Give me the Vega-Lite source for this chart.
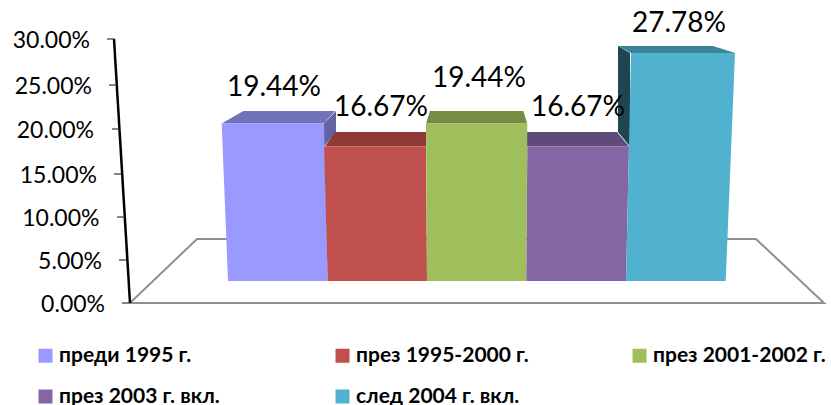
{
"$schema":"https://vega.github.io/schema/vega-lite/v6.json",
"width":831,"height":405,"padding":0,"autosize":{"type":"none"},
"background":"#ffffff","config":{"view":{"stroke":null},"font":"Lato"},
"resolve":{"scale":{"color":"independent"}},
"layer":[
{"data":{"values":[{"p":0,"x":0,"y":0},{"p":1,"x":0.67,"y":7.44},{"p":2,"x":6.26,"y":7.44},{"p":3,"x":6.94,"y":0},{"p":4,"x":0,"y":0}]},
 "mark":{"type":"line","stroke":"#8f8f8f","strokeWidth":2},
 "encoding":{"order":{"field":"p","type":"quantitative"},
  "x":{"field":"x","type":"quantitative","axis":null,"scale":{"domain":[-1.3,7.01],"range":[0,831],"nice":false,"zero":false}},
  "y":{"field":"y","type":"quantitative","axis":null,"scale":{"domain":[0,5,10,15,20,25,30],"range":[303,260,217,174,129,85,39],"nice":false,"zero":false}}}},
{"data":{"values":[
 {"series":"преди 1995 г.","x":1.94,"y":20.63,"y2":18.06},{"series":"преди 1995 г.","x":2.06,"y":22.05,"y2":19.67}]},
 "mark":{"type":"area","orient":"vertical"},
 "encoding":{"x":{"field":"x","type":"quantitative","axis":null},"y":{"field":"y","type":"quantitative","axis":null,"stack":null},"y2":{"field":"y2"},
  "color":{"field":"series","type":"nominal","legend":null,"scale":{"domain":["преди 1995 г."],"range":["#6363a3"]}}}},
{"data":{"values":[
 {"series":"преди 1995 г.","y":20.63,"x":0.917,"x2":1.94},{"series":"преди 1995 г.","y":22.05,"x":1.133,"x2":2.05},
 {"series":"през 1995-2000 г.","y":18.06,"x":1.95,"x2":2.96},{"series":"през 1995-2000 г.","y":19.67,"x":2.05,"x2":2.96},
 {"series":"през 2001-2002 г.","y":20.63,"x":2.96,"x2":3.973},{"series":"през 2001-2002 г.","y":22.05,"x":3.0,"x2":3.933},
 {"series":"през 2003 г. вкл.","y":18.06,"x":3.973,"x2":4.99},{"series":"през 2003 г. вкл.","y":19.67,"x":3.93,"x2":4.87},
 {"series":"след 2004 г. вкл.","y":28.48,"x":5.01,"x2":6.05},{"series":"след 2004 г. вкл.","y":29.24,"x":4.88,"x2":5.83}]},
 "mark":{"type":"area","orient":"horizontal"},
 "encoding":{"y":{"field":"y","type":"quantitative","axis":null},"x":{"field":"x","type":"quantitative","axis":null,"stack":null},"x2":{"field":"x2"},
  "color":{"field":"series","type":"nominal","legend":null,"scale":{"domain":["преди 1995 г.","през 1995-2000 г.","през 2001-2002 г.","през 2003 г. вкл.","след 2004 г. вкл."],"range":["#7272b8","#8e3936","#778c43","#604a7b","#3c8399"]}}}},
{"data":{"values":[
 {"series":"след 2004 г. вкл.","x":4.88,"y":29.24,"y2":19.67},{"series":"след 2004 г. вкл.","x":5.0,"y":28.48,"y2":18.06}]},
 "mark":{"type":"area","orient":"vertical"},
 "encoding":{"x":{"field":"x","type":"quantitative","axis":null},"y":{"field":"y","type":"quantitative","axis":null,"stack":null},"y2":{"field":"y2"},
  "color":{"field":"series","type":"nominal","legend":null,"scale":{"domain":["след 2004 г. вкл."],"range":["#1f4650"]}}}},
{"data":{"values":[
 {"series":"преди 1995 г.","y":20.63,"x":0.917,"x2":1.94},{"series":"преди 1995 г.","y":2.56,"x":0.98,"x2":1.977},
 {"series":"през 1995-2000 г.","y":18.06,"x":1.94,"x2":2.96},{"series":"през 1995-2000 г.","y":2.56,"x":1.977,"x2":2.97},
 {"series":"през 2001-2002 г.","y":20.63,"x":2.96,"x2":3.973},{"series":"през 2001-2002 г.","y":2.56,"x":2.97,"x2":3.963},
 {"series":"през 2003 г. вкл.","y":18.06,"x":3.973,"x2":4.99},{"series":"през 2003 г. вкл.","y":2.56,"x":3.963,"x2":4.96},
 {"series":"след 2004 г. вкл.","y":28.48,"x":5.01,"x2":6.05},{"series":"след 2004 г. вкл.","y":2.56,"x":4.96,"x2":5.957}]},
 "mark":{"type":"area","orient":"horizontal"},
 "encoding":{"y":{"field":"y","type":"quantitative","axis":null},"x":{"field":"x","type":"quantitative","axis":null,"stack":null},"x2":{"field":"x2"},
  "color":{"field":"series","type":"nominal","scale":{"domain":["преди 1995 г.","през 1995-2000 г.","през 2001-2002 г.","през 2003 г. вкл.","след 2004 г. вкл."],"range":["#9999ff","#c0504d","#9fbf5d","#8566a4","#50b2ce"]},
   "legend":{"title":null,"orient":"none","legendX":35,"legendY":345,"columns":3,"direction":"horizontal","gridAlign":"all","symbolType":"square","symbolSize":196,"symbolStrokeWidth":0,"labelFontSize":21,"labelFontWeight":"bold","labelFont":"Lato","labelColor":"#000000","labelOffset":3,"rowPadding":19,"columnPadding":100,"labelLimit":300}}}},
{"data":{"values":[{"p":0,"x":-0.16,"y":30},{"p":1,"x":0,"y":0}]},
 "mark":{"type":"line","stroke":"#000000","strokeWidth":2.5},
 "encoding":{"order":{"field":"p","type":"quantitative"},"x":{"field":"x","type":"quantitative","axis":null},"y":{"field":"y","type":"quantitative","axis":null}}},
{"data":{"values":[{"tick":30,"x":-0.23,"x2":-0.155},{"tick":25,"x":-0.21,"x2":-0.13},{"tick":20,"x":-0.18,"x2":-0.11},{"tick":15,"x":-0.16,"x2":-0.09},{"tick":10,"x":-0.13,"x2":-0.05},{"tick":5,"x":-0.11,"x2":-0.03},{"tick":0,"x":-0.08,"x2":0}]},
 "mark":{"type":"rule","stroke":"#333333","strokeWidth":1.2},
 "encoding":{"x":{"field":"x","type":"quantitative","axis":null},"x2":{"field":"x2"},"y":{"field":"tick","type":"quantitative","axis":null}}},
{"data":{"values":[{"tick":0.30,"pos":30,"x":-0.4},{"tick":0.25,"pos":25,"x":-0.38},{"tick":0.20,"pos":20,"x":-0.36},{"tick":0.15,"pos":15,"x":-0.33},{"tick":0.10,"pos":10,"x":-0.305},{"tick":0.05,"pos":5,"x":-0.28},{"tick":0,"pos":0,"x":-0.25}]},
 "mark":{"type":"text","align":"right","baseline":"middle","fontSize":23,"font":"Lato","color":"#000000","dy":2},
 "encoding":{"x":{"field":"x","type":"quantitative","axis":null},"y":{"field":"pos","type":"quantitative","axis":null},"text":{"field":"tick","type":"quantitative","format":".2%"}}},
{"data":{"values":[{"share":0.1944,"x":1.44,"y":24.78},{"share":0.1667,"x":2.51,"y":22.53},{"share":0.1944,"x":3.49,"y":25.76},{"share":0.1667,"x":4.48,"y":22.53},{"share":0.2778,"x":5.49,"y":31.74}]},
 "mark":{"type":"text","align":"center","baseline":"middle","fontSize":28,"font":"Lato","color":"#000000","dy":1},
 "encoding":{"x":{"field":"x","type":"quantitative","axis":null},"y":{"field":"y","type":"quantitative","axis":null},"text":{"field":"share","type":"quantitative","format":".2%"}}}
]}
